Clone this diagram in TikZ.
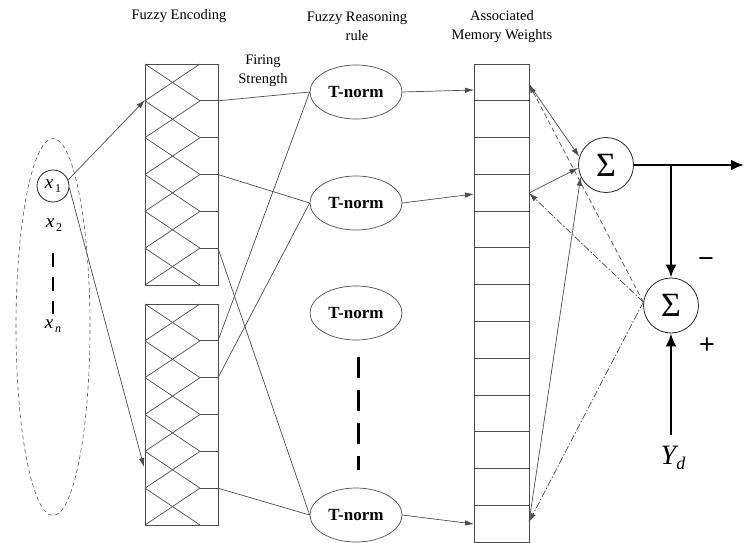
\documentclass[tikz,border=0pt]{standalone}
\usepackage{fontspec}
\setmainfont{Liberation Serif}
\newfontfamily\sansf{Liberation Sans}
\usetikzlibrary{arrows.meta,shapes.geometric}
\begin{document}
\begin{tikzpicture}[x=1pt,y=-1pt,
  ln/.style={draw=black!70, line width=0.7pt},
  arr/.style={ln,-{Latex[length=9pt,width=5.5pt]}},
  dsh/.style={arr, dash pattern=on 5pt off 3pt},
  dshdot/.style={arr, dash pattern=on 7pt off 2pt on 1.5pt off 2pt},
  thickarr/.style={draw=black, line width=2.8pt,-{Latex[length=13pt,width=11pt]}},
  lab/.style={font=\fontsize{14.5}{19}\selectfont, align=center, inner sep=0pt},
  tnorm/.style={ellipse, ln, minimum width=92pt, minimum height=54pt, inner sep=0pt, font=\fontsize{17}{20}\selectfont\bfseries},
  sumc/.style={circle, draw=black!85, line width=0.8pt, minimum size=55pt, inner sep=0pt, font=\fontsize{34}{34}\selectfont},
  boxn/.style={ln, rectangle, inner sep=0pt},
  pm/.style={font=\sansf\fontsize{27}{27}\selectfont, inner sep=0pt}
]
\useasboundingbox (0,0) rectangle (744,543);

% headers
\node[lab] (hEnc) at (179,16) {Fuzzy Encoding};
\node[lab] (hFire) at (263,71) {Firing\\Strength};
\node[lab] (hRule) at (357,26) {Fuzzy Reasoning\\rule};
\node[lab] (hMem) at (502,27) {Associated\\Memory Weights};

% input group
\node[ellipse, draw=black!65, line width=0.6pt, dash pattern=on 4pt off 3pt, minimum width=74pt, minimum height=377pt, inner sep=0pt] (inp) at (53,327) {};
\node[circle, draw=black!85, line width=0.8pt, minimum size=32pt, inner sep=0pt, font=\fontsize{19}{19}\selectfont] (x1) at (53,186) {\itshape x\raisebox{-4pt}{\upshape\fontsize{12}{12}\selectfont\,1}};
\node[inner sep=0pt, font=\fontsize{19}{19}\selectfont] (x2) at (54,225) {\itshape x\raisebox{-4pt}{\upshape\fontsize{12}{12}\selectfont\,2}};
\node[inner sep=0pt, font=\fontsize{19}{19}\selectfont] (xn) at (53,326) {\itshape x\raisebox{-4pt}{\fontsize{12}{12}\selectfont\,n}};
\coordinate (dA) at (53,253);
\coordinate (dB) at (53,314);
\draw[draw=black, line width=1.3pt, dash pattern=on 14pt off 10pt] (dA) -- (dB);

% encoding boxes
\node[boxn, minimum width=73pt, minimum height=221pt] (encU) at (181.5,174.5) {};
\node[boxn, minimum width=73pt, minimum height=221pt] (encL) at (181.5,414.5) {};
\foreach \yo in {64,304}{
  \foreach \k in {0,...,5}{
    \draw[ln] (145,{\yo+\k*36.833}) -- (200,{\yo+(\k+1)*36.833});
    \draw[ln] (200,{\yo+\k*36.833}) -- (145,{\yo+(\k+1)*36.833});
  }
  \foreach \k in {1,...,5}{
    \draw[ln] (200,{\yo+\k*36.833}) -- (218,{\yo+\k*36.833});
  }
}
\coordinate (ua1) at (218,100.8);
\coordinate (ua3) at (218,174.5);
\coordinate (ua5) at (218,248.2);
\coordinate (la1) at (218,340.8);
\coordinate (la2) at (218,377.7);
\coordinate (la5) at (218,488.2);
\coordinate (inU) at (145,100);
\coordinate (inL) at (144,467);
\draw[arr] (x1.22) -- (inU);
\draw[arr] (x1.-6) -- (inL);

% T-norms
\node[tnorm] (t1) at (356,92) {T-norm};
\node[tnorm] (t2) at (356,203) {T-norm};
\node[tnorm] (t3) at (356,313) {T-norm};
\node[tnorm] (t4) at (356,515) {T-norm};
\coordinate (vA) at (358,357);
\coordinate (vB) at (358,470);
\draw[draw=black, line width=3pt, dash pattern=on 21pt off 12pt] (vA) -- (vB);

\draw[ln] (ua1) -- (t1.west);
\draw[ln] (la1) -- (t1.west);
\draw[ln] (ua3) -- (t2.west);
\draw[ln] (la2) -- (t2.west);
\draw[ln] (ua5) -- (t4.west);
\draw[ln] (la5) -- (t4.west);

% memory column
\node[boxn, minimum width=55pt, minimum height=478pt] (mem) at (501.5,303) {};
\foreach \k in {1,...,12}{
  \draw[ln] (474,{64+\k*36.769}) -- (529,{64+\k*36.769});
}
\coordinate (mi1) at (474,90);
\coordinate (mi2) at (474,194);
\coordinate (mi4) at (474,524);
\coordinate (mo1) at (529,84);
\coordinate (mo2) at (529,193);
\coordinate (mo4) at (529,522);
\draw[arr] (t1.east) -- (mi1);
\draw[arr] (t2.east) -- (mi2);
\draw[arr] (t4.east) -- (mi4);

% sums
\node[sumc] (s1) at (606,165) {Σ};
\node[sumc] (s2) at (671,305.5) {Σ};
\draw[arr] (mo1) -- (s1.163);
\draw[arr] (mo2) -- (s1.186);
\draw[arr] (mo4) -- (s1.205);
\draw[dsh] (s2.173) -- (mo1);
\draw[dshdot] (s2.173) -- (mo2);
\draw[dshdot] (s2.173) -- (mo4);

\coordinate (out) at (744,165);
\coordinate (br) at (671,165);
\draw[thickarr] (s1.east) -- (out);
\draw[draw=black, line width=2.8pt] (s1.east) -- (br);
\draw[thickarr] (br) -- (s2.north);
\node[inner sep=0pt, font=\fontsize{28}{28}\selectfont] (yd) at (673,458) {\itshape Y\raisebox{-5pt}{\fontsize{18}{18}\selectfont d}};
\coordinate (ydt) at (671,435);
\draw[thickarr] (ydt) -- (s2.south);
\node[pm] (minus) at (706,263) {−};
\node[pm] (plus) at (707,346) {+};
\end{tikzpicture}
\end{document}
